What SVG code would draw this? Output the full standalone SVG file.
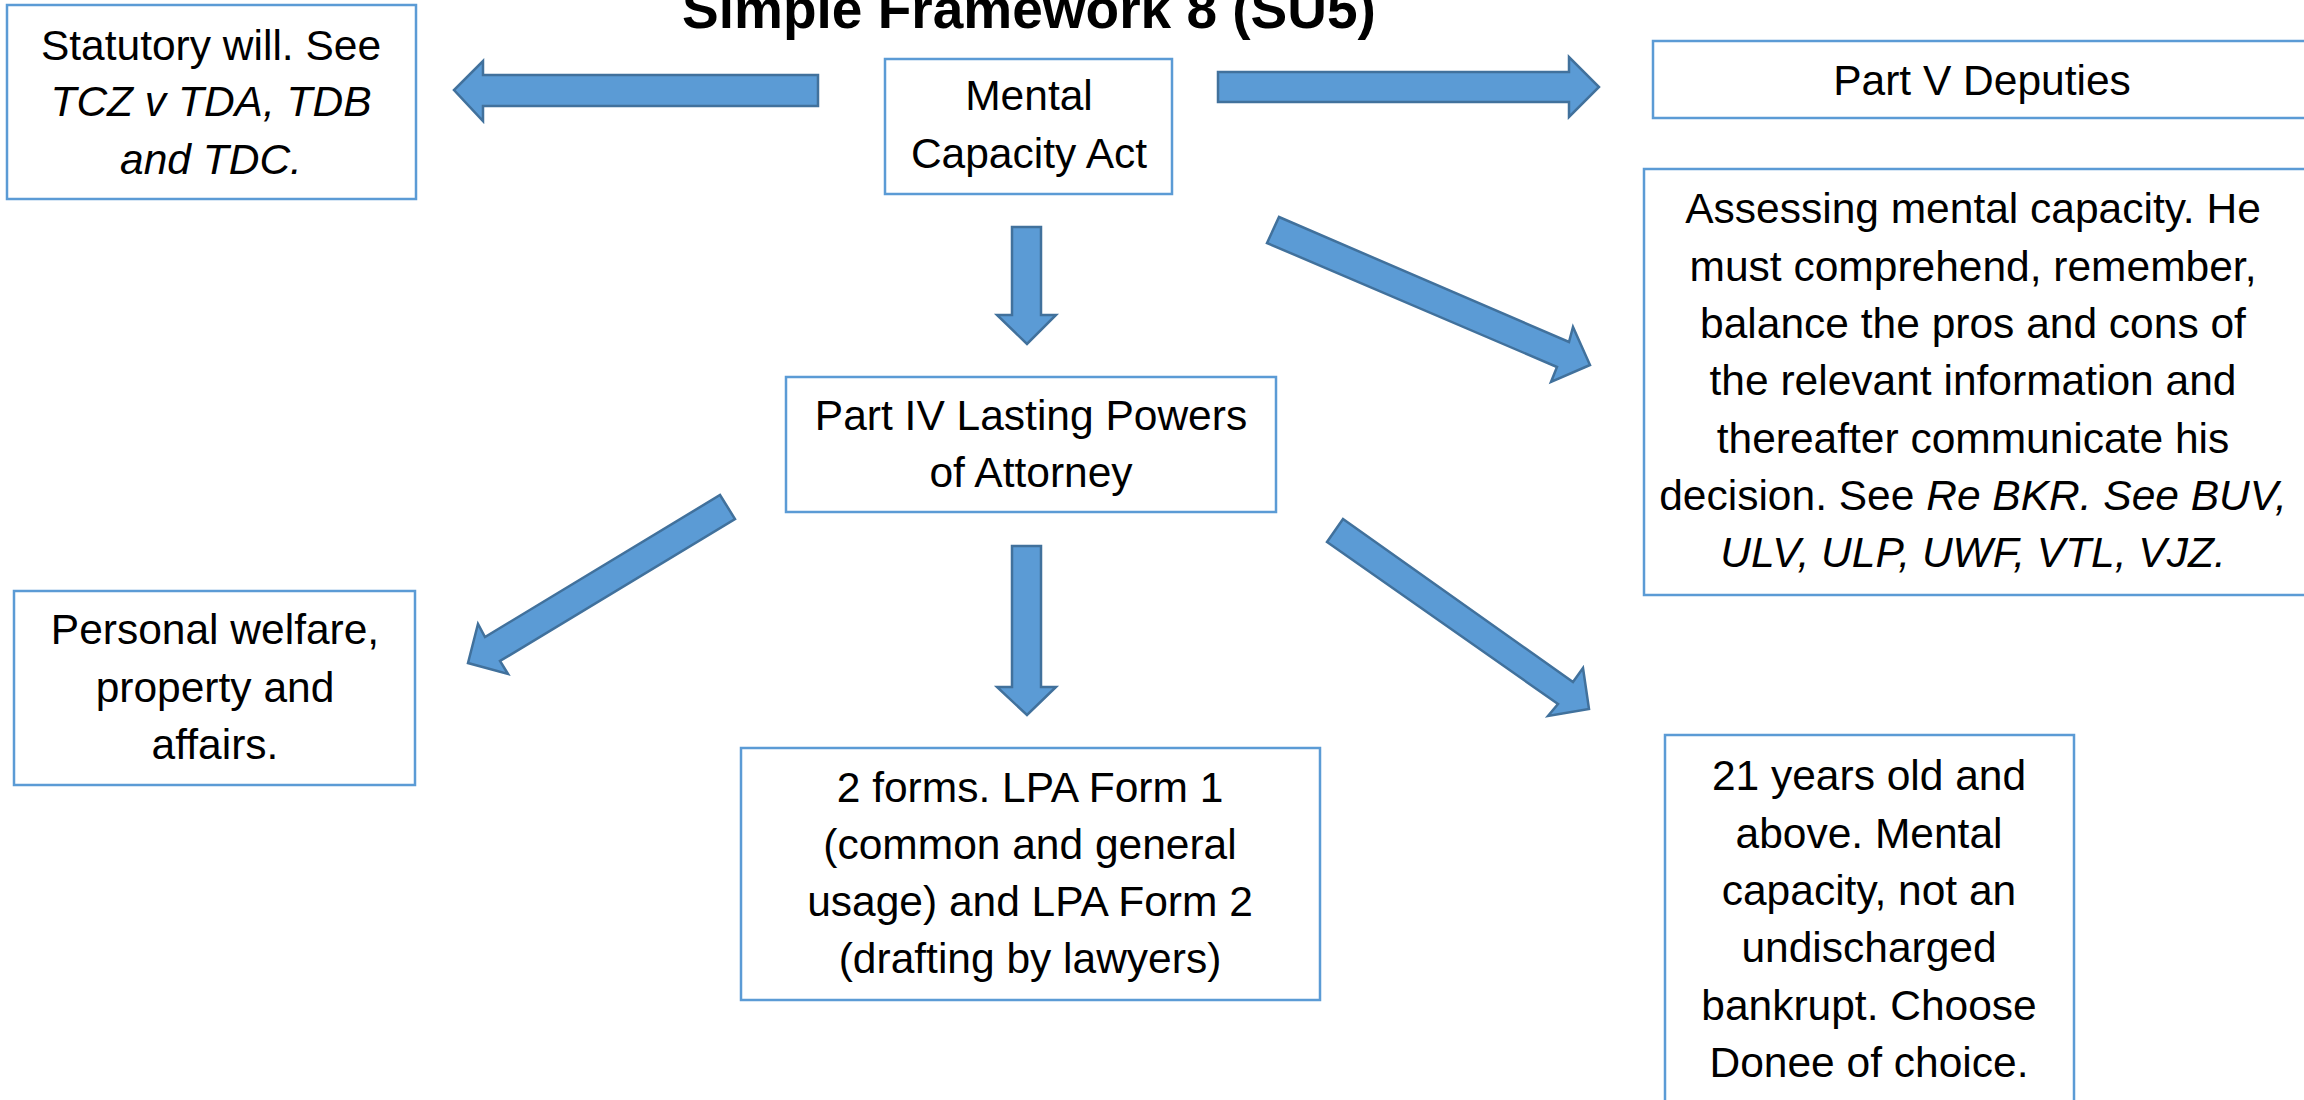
<svg xmlns="http://www.w3.org/2000/svg" width="2304" height="1100" viewBox="0 0 2304 1100">
<style>
.box{fill:#FFFFFF;stroke:#5B9BD5;stroke-width:2.5}
.t{font-family:"Liberation Sans",Arial,sans-serif;font-size:42.5px;fill:#000;text-anchor:middle}
.i{font-style:italic}
.title{font-family:"Liberation Sans",Arial,sans-serif;font-size:55px;font-weight:bold;fill:#000;text-anchor:middle}
.arr{fill:#5B9BD5;stroke:#41719C;stroke-width:2.5;stroke-linejoin:miter}
</style>
<rect width="2304" height="1100" fill="#FFFFFF"/>
<text class="title" x="1029" y="28">Simple Framework 8 (SU5)</text>

<g id="connectors">
<polygon class="arr" points="818,75 483,75 483,61 454,90 483,121 483,106 818,106"/>
<polygon class="arr" points="1218,72 1569,72 1569,57 1599,87 1569,117 1569,102 1218,102"/>
<polygon class="arr" points="1012,227 1041,227 1041,315 1056,315 1027,344 997,315 1012,315"/>
<polygon class="arr" points="1012,546 1041,546 1041,687 1056,687 1027,715 997,687 1012,687"/>
<polygon class="arr" points="1279,217 1569,342 1573,327 1590,365 1551,382 1557,367 1267,243"/>
<polygon class="arr" points="1343,519 1573,682 1583,668 1589,709 1548,716 1558,704 1327,542"/>
<polygon class="arr" points="720,495 735,519 500,661 508,674 468,663 478,624 485,637"/>
</g>

<g id="statutory">
<rect class="box" x="7" y="5" width="409" height="194"/>
<text class="t" x="211" y="60">Statutory will. See</text>
<text class="t i" x="211" y="116">TCZ v TDA, TDB</text>
<text class="t i" x="211" y="174">and TDC.</text>
</g>

<g id="mental">
<rect class="box" x="885" y="59" width="287" height="135"/>
<text class="t" x="1029" y="110">Mental</text>
<text class="t" x="1029" y="168">Capacity Act</text>
</g>

<g id="partv">
<rect class="box" x="1653" y="41" width="700" height="77"/>
<text class="t" x="1982" y="95">Part V Deputies</text>
</g>

<g id="assessing">
<rect class="box" x="1644" y="169" width="700" height="426"/>
<text class="t" x="1973" y="223">Assessing mental capacity. He</text>
<text class="t" x="1973" y="281">must comprehend, remember,</text>
<text class="t" x="1973" y="338">balance the pros and cons of</text>
<text class="t" x="1973" y="395">the relevant information and</text>
<text class="t" x="1973" y="453">thereafter communicate his</text>
<text class="t" x="1973" y="510">decision. See <tspan class="i">Re BKR. See BUV,</tspan></text>
<text class="t i" x="1973" y="567">ULV, ULP, UWF, VTL, VJZ.</text>
</g>

<g id="lpa">
<rect class="box" x="786" y="377" width="490" height="135"/>
<text class="t" x="1031" y="430">Part IV Lasting Powers</text>
<text class="t" x="1031" y="487">of Attorney</text>
</g>

<g id="personal">
<rect class="box" x="14" y="591" width="401" height="194"/>
<text class="t" x="215" y="644">Personal welfare,</text>
<text class="t" x="215" y="702">property and</text>
<text class="t" x="215" y="759">affairs.</text>
</g>

<g id="forms">
<rect class="box" x="741" y="748" width="579" height="252"/>
<text class="t" x="1030" y="802">2 forms. LPA Form 1</text>
<text class="t" x="1030" y="859">(common and general</text>
<text class="t" x="1030" y="916">usage) and LPA Form 2</text>
<text class="t" x="1030" y="973">(drafting by lawyers)</text>
</g>

<g id="donee">
<rect class="box" x="1665" y="735" width="409" height="400"/>
<text class="t" x="1869" y="790">21 years old and</text>
<text class="t" x="1869" y="848">above. Mental</text>
<text class="t" x="1869" y="905">capacity, not an</text>
<text class="t" x="1869" y="962">undischarged</text>
<text class="t" x="1869" y="1020">bankrupt. Choose</text>
<text class="t" x="1869" y="1077">Donee of choice.</text>
</g>
</svg>
